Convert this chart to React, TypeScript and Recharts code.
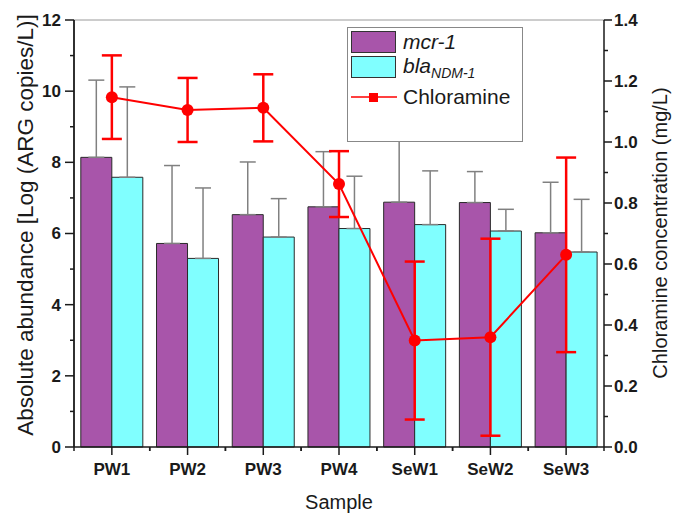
import React from 'react';
import { ComposedChart, Bar, Line, XAxis, YAxis, ErrorBar, ReferenceLine } from 'recharts';

const samples = ['PW1', 'PW2', 'PW3', 'PW4', 'SeW1', 'SeW2', 'SeW3'];
const mcr1 = [8.14, 5.72, 6.53, 6.75, 6.88, 6.87, 6.02];
const mcr1Err = [2.17, 2.19, 1.48, 1.55, 2.0, 0.87, 1.42];
const blaNdm1 = [7.58, 5.3, 5.9, 6.14, 6.25, 6.07, 5.48];
const blaNdm1Err = [2.54, 1.98, 1.08, 1.47, 1.51, 0.61, 1.48];
const chloramine = [1.147, 1.105, 1.112, 0.862, 0.349, 0.36, 0.63];
const chloramineErr = [0.137, 0.105, 0.11, 0.108, 0.259, 0.323, 0.319];

const leftTicks = [0, 1, 2, 3, 4, 5, 6, 7, 8, 9, 10, 11, 12];
const rightTicks = [0, 0.1, 0.2, 0.3, 0.4, 0.5, 0.6, 0.7, 0.8, 0.9, 1.0, 1.1, 1.2, 1.3, 1.4];

const data = samples.map((s, i) => ({
  sample: s,
  mcr: mcr1[i],
  mcrErr: [0, mcr1Err[i]],
  bla: blaNdm1[i],
  blaErr: [0, blaNdm1Err[i]],
  cl: chloramine[i],
  clErr: chloramineErr[i],
}));

const W = 675;
const H = 514;
const LEFT_W = 74;
const RIGHT_W = 71;
const TOP = 20;
const X_H = 67;
const BAND = (W - LEFT_W - RIGHT_W) / samples.length;

const FONT = '"Liberation Sans", Arial, sans-serif';
const INK = '#1a1a1a';
const PURPLE = '#a855aa';
const CYAN = '#80ffff';
const RED = '#ff0000';
const TICK_FS = 17;

const LeftTick = ({ x, y, payload }: any) => {
  const major = payload.value % 2 === 0;
  return (
    <g>
      <line x1={x} x2={x - (major ? 9 : 4)} y1={y} y2={y} stroke={INK} strokeWidth={1.5} />
      {major && (
        <text x={x - 13} y={y} dy="0.35em" textAnchor="end" fontSize={TICK_FS} fontWeight="bold" fill={INK} fontFamily={FONT}>
          {payload.value}
        </text>
      )}
    </g>
  );
};

const RightTick = ({ x, y, payload }: any) => {
  const major = Math.round(payload.value * 10) % 2 === 0;
  return (
    <g>
      <line x1={x} x2={x + (major ? 8 : 4)} y1={y} y2={y} stroke={INK} strokeWidth={1.5} />
      {major && (
        <text x={x + 10} y={y} dy="0.35em" textAnchor="start" fontSize={TICK_FS} fontWeight="bold" fill={INK} fontFamily={FONT}>
          {payload.value.toFixed(1)}
        </text>
      )}
    </g>
  );
};

const SampleTick = ({ x, y, payload }: any) => (
  <g>
    <line x1={x} x2={x} y1={y} y2={y + 8} stroke={INK} strokeWidth={1.5} />
    <line x1={x - BAND / 2} x2={x - BAND / 2} y1={y} y2={y + 4} stroke={INK} strokeWidth={1.5} />
    <line x1={x + BAND / 2} x2={x + BAND / 2} y1={y} y2={y + 4} stroke={INK} strokeWidth={1.5} />
    <text x={x} y={y + 28} textAnchor="middle" fontSize={TICK_FS} fontWeight="bold" fill={INK} fontFamily={FONT}>
      {payload.value}
    </text>
  </g>
);

function ChartLegend() {
  const row = { display: 'flex', alignItems: 'center', height: 24 } as const;
  const swatch = (bg: string) => ({ width: 45, height: 22, background: bg, border: '1px solid #333', boxSizing: 'border-box' as const });
  return (
    <div
      style={{
        position: 'absolute',
        left: 347,
        top: 27,
        width: 176,
        height: 115,
        background: '#fff',
        border: '1px solid #888',
        boxSizing: 'border-box',
        padding: '2px 3px',
        fontFamily: FONT,
        fontSize: 21,
        color: INK,
      }}
    >
      <div style={row}>
        <div style={swatch(PURPLE)} />
        <span style={{ marginLeft: 7, fontStyle: 'italic' }}>mcr-1</span>
      </div>
      <div style={{ ...row, marginTop: 1 }}>
        <div style={swatch(CYAN)} />
        <span style={{ marginLeft: 7, fontStyle: 'italic' }}>
          bla<sub style={{ fontSize: 14, verticalAlign: '-0.35em' }}>NDM-1</sub>
        </span>
      </div>
      <div style={{ ...row, marginTop: 6 }}>
        <svg width={46} height={24}>
          <line x1={0} x2={46} y1={12} y2={12} stroke={RED} strokeWidth={1.5} />
          <rect x={18} y={8} width={9} height={9} fill={RED} />
        </svg>
        <span style={{ marginLeft: 6 }}>Chloramine</span>
      </div>
    </div>
  );
}

export default function App() {
  return (
    <div style={{ position: 'absolute', left: 0, top: 0, width: W, height: H, background: '#fff' }}>
      <ComposedChart
        width={W}
        height={H}
        data={data}
        margin={{ top: TOP, right: 0, bottom: 0, left: 0 }}
        barCategoryGap="9%"
        barGap={0}
      >
        <XAxis
          dataKey="sample"
          height={X_H}
          tickSize={0}
          tickMargin={0}
          tickLine={false}
          tick={<SampleTick />}
          axisLine={{ stroke: INK, strokeWidth: 1.5 }}
          interval={0}
          label={{
            content: () => (
              <text x={LEFT_W + (W - LEFT_W - RIGHT_W) / 2} y={509} textAnchor="middle" fontSize={20} fill={INK} fontFamily={FONT}>
                Sample
              </text>
            ),
          }}
        />
        <YAxis
          yAxisId="left"
          width={LEFT_W}
          domain={[0, 12]}
          ticks={leftTicks}
          interval={0}
          tickSize={0}
          tickMargin={0}
          tickLine={false}
          tick={<LeftTick />}
          axisLine={{ stroke: INK, strokeWidth: 1.8 }}
          label={{
            content: () => (
              <text
                x={25}
                y={225}
                dy="0.35em"
                transform="rotate(-90 25 225)"
                textAnchor="middle"
                fontSize={22.5}
                fill={INK}
                fontFamily={FONT}
              >
                Absolute abundance [Log (ARG copies/L)]
              </text>
            ),
          }}
        />
        <YAxis
          yAxisId="right"
          orientation="right"
          width={RIGHT_W}
          domain={[0, 1.4]}
          ticks={rightTicks}
          interval={0}
          tickSize={0}
          tickMargin={0}
          tickLine={false}
          tick={<RightTick />}
          axisLine={{ stroke: INK, strokeWidth: 1.5 }}
          label={{
            content: () => (
              <text
                x={660}
                y={233}
                dy="0.35em"
                transform="rotate(-90 660 233)"
                textAnchor="middle"
                fontSize={20}
                fill={INK}
                fontFamily={FONT}
              >
                Chloramine concentration (mg/L)
              </text>
            ),
          }}
        />
        <ReferenceLine yAxisId="left" y={12} stroke="#9a9a9a" strokeWidth={1} />
        <Bar yAxisId="left" dataKey="mcr" fill={PURPLE} stroke="#2a2a2a" strokeWidth={1} isAnimationActive={false}>
          <ErrorBar dataKey="mcrErr" direction="y" width={8} stroke="#808080" strokeWidth={1.5} />
        </Bar>
        <Bar yAxisId="left" dataKey="bla" fill={CYAN} stroke="#2a2a2a" strokeWidth={1} isAnimationActive={false}>
          <ErrorBar dataKey="blaErr" direction="y" width={8} stroke="#808080" strokeWidth={1.5} />
        </Bar>
        <Line
          yAxisId="right"
          dataKey="cl"
          stroke={RED}
          strokeWidth={2}
          dot={{ r: 6, fill: RED, stroke: RED, strokeWidth: 0 }}
          activeDot={false}
          isAnimationActive={false}
        >
          <ErrorBar dataKey="clErr" direction="y" width={10} stroke={RED} strokeWidth={2.5} />
        </Line>
      </ComposedChart>
      <ChartLegend />
    </div>
  );
}
